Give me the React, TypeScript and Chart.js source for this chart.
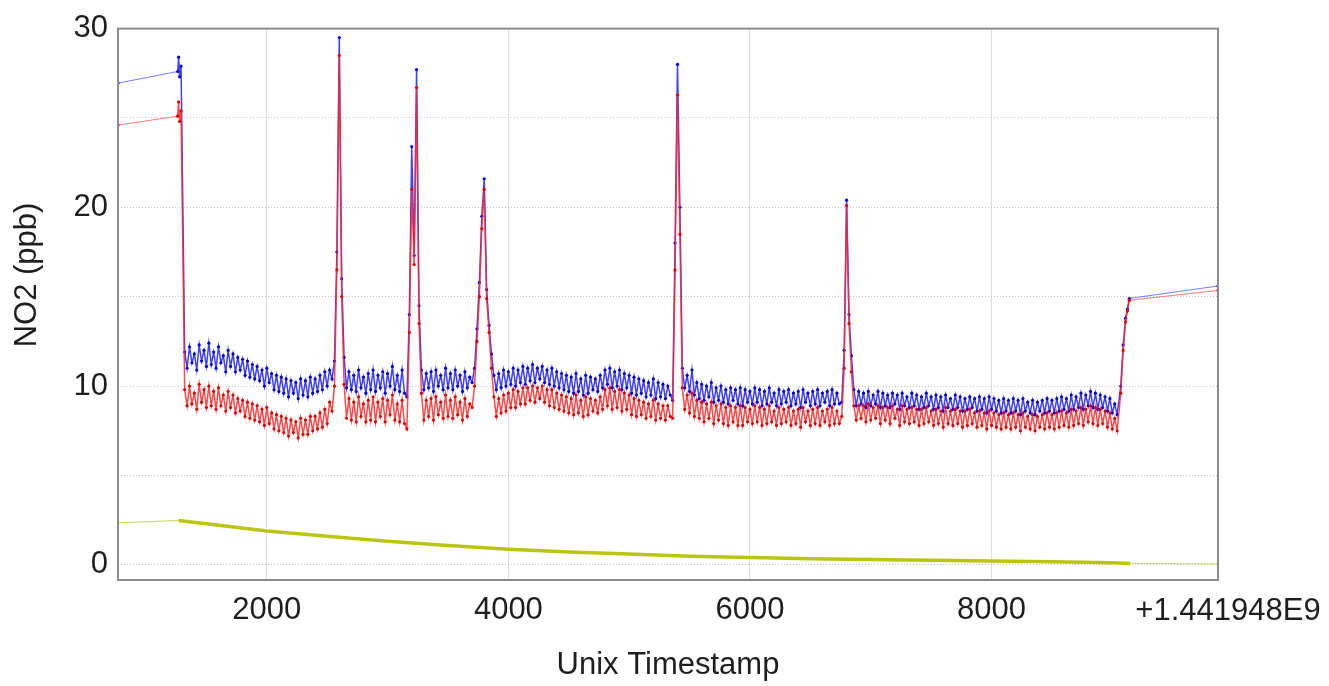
import { useEffect, useRef } from "react";
import { Chart, registerables } from "chart.js";
Chart.register(...registerables);

// Axis ranges and ticks
const X_MIN = 768;
const X_MAX = 9875;
const X_TICKS = [2000, 4000, 6000, 8000];
const X_OFFSET_LABEL = "+1.441948E9";
const X_TITLE = "Unix Timestamp";
const Y_MIN = -0.85;
const Y_MAX = 30;
const Y_GRID = [0, 5, 10, 15, 20, 25, 30];
const Y_LABELS = [0, 10, 20, 30];
const Y_TITLE = "NO2 (ppb)";

// Regular sampled section (timestamp offsets, one sample every 20 s)
const NOISE_START = 1320;
const NOISE_STEP = 20;

// Blue series
const BLUE_HEAD_T = [768, 1262, 1270, 1278, 1290];
const BLUE_HEAD = [26.95, 27.6, 28.4, 27.3, 27.9];
const BLUE_NOISE = [
  11.9, 11.0, 12.2, 11.3, 11.8, 10.9, 12.3, 11.4, 12.0, 11.1,
  12.4, 11.2, 11.9, 11.0, 12.2, 11.3, 11.7, 10.8, 12.0, 11.1,
  11.8, 10.8, 11.6, 10.9, 11.5, 10.6, 11.4, 10.5, 11.2, 10.4,
  11.1, 10.3, 10.9, 10.0, 11.0, 10.2, 10.7, 9.8, 10.6, 9.7,
  10.5, 9.6, 10.4, 9.4, 10.3, 9.6, 10.2, 9.3, 10.4, 9.5,
  10.3, 9.4, 10.5, 9.6, 10.4, 9.7, 10.6, 9.8, 10.8, 10.0,
  10.9, 10.4, 11.4, 17.5, 29.5, 16.0, 11.6, 9.9, 10.8, 9.8,
  10.6, 9.7, 10.9, 9.9, 10.5, 9.6, 10.7, 9.8, 10.9, 9.7,
  10.6, 9.9, 10.8, 9.6, 10.7, 10.0, 11.1, 9.8, 10.6, 9.7,
  10.9, 9.6, 9.4, 14.0, 23.4, 17.3, 27.7, 14.5, 10.9, 9.8,
  10.7, 9.9, 10.8, 9.7, 10.9, 10.0, 10.6, 9.8, 11.0, 9.9,
  10.7, 9.8, 10.9, 10.0, 10.6, 9.7, 10.8, 9.9, 10.5, 10.2,
  11.0, 13.2, 15.8, 19.5, 21.6, 15.4, 13.4, 11.8, 10.6, 9.8,
  10.7, 9.9, 10.9, 10.0, 10.8, 10.1, 11.0, 10.0, 10.9, 10.2,
  11.1, 10.1, 11.0, 10.3, 11.2, 10.2, 11.0, 10.4, 11.1, 10.2,
  10.9, 10.1, 11.0, 10.0, 10.8, 9.9, 10.7, 9.8, 10.6, 9.7,
  10.5, 9.6, 10.7, 9.7, 10.4, 9.5, 10.6, 9.6, 10.5, 9.8,
  10.4, 9.7, 10.6, 9.9, 10.9, 10.1, 11.0, 9.9, 10.8, 10.0,
  10.9, 9.8, 10.7, 9.9, 10.6, 9.6, 10.5, 9.5, 10.4, 9.6,
  10.3, 9.4, 10.2, 9.5, 10.4, 9.3, 10.2, 9.4, 10.1, 9.3,
  10.0, 9.5, 9.2, 18.0, 28.0, 20.0, 11.0, 9.9, 10.6, 9.7,
  10.9, 9.5, 10.2, 9.3, 10.1, 9.2, 10.0, 9.4, 10.2, 9.1,
  9.9, 9.2, 10.0, 9.1, 9.8, 9.0, 9.9, 9.2, 9.8, 9.0,
  9.9, 8.9, 9.8, 9.1, 9.7, 9.0, 9.9, 9.1, 9.8, 8.9,
  9.7, 9.0, 9.9, 9.1, 9.6, 8.9, 9.8, 9.0, 9.7, 9.1,
  9.8, 8.9, 9.6, 9.0, 9.7, 8.8, 9.8, 9.1, 9.6, 8.9,
  9.7, 9.0, 9.8, 8.9, 9.6, 9.1, 9.7, 8.9, 9.8, 9.0,
  9.6, 9.0, 9.1, 12.0, 20.4, 14.0, 11.7, 9.8, 8.9, 9.7,
  9.0, 9.6, 8.8, 9.7, 8.9, 9.5, 9.0, 9.7, 8.8, 9.6,
  8.9, 9.5, 8.8, 9.6, 9.0, 9.5, 8.7, 9.6, 8.9, 9.4,
  8.8, 9.6, 8.9, 9.5, 8.7, 9.4, 8.8, 9.6, 8.9, 9.4,
  8.7, 9.5, 8.8, 9.4, 8.6, 9.5, 8.8, 9.3, 8.7, 9.5,
  8.8, 9.4, 8.6, 9.3, 8.7, 9.4, 8.8, 9.3, 8.6, 9.4,
  8.7, 9.3, 8.5, 9.4, 8.7, 9.3, 8.6, 9.2, 8.5, 9.3,
  8.6, 9.2, 8.5, 9.3, 8.6, 9.2, 8.4, 9.3, 8.6, 9.1,
  8.5, 9.2, 8.4, 9.1, 8.6, 9.2, 8.5, 9.3, 8.6, 9.2,
  8.5, 9.3, 8.6, 9.4, 8.7, 9.3, 8.6, 9.5, 8.7, 9.4,
  8.8, 9.6, 8.7, 9.5, 8.9, 9.7, 8.8, 9.6, 8.7, 9.5,
  8.8, 9.4, 8.6, 9.3, 8.5, 9.0, 8.4,
];
const BLUE_TAIL_T = [9070, 9090, 9110, 9125, 9140, 9875];
const BLUE_TAIL = [10.0, 12.3, 13.8, 14.3, 14.9, 15.6];

// Red series
const RED_HEAD_T = [768, 1262, 1270, 1278, 1290];
const RED_HEAD = [24.6, 25.1, 25.9, 24.8, 25.4];
const RED_NOISE = [
  9.8, 8.9, 10.0, 9.0, 9.6, 8.7, 10.1, 9.1, 9.8, 8.8,
  10.0, 8.9, 9.7, 8.7, 9.9, 8.9, 9.5, 8.6, 9.7, 8.8,
  9.5, 8.5, 9.3, 8.6, 9.2, 8.3, 9.1, 8.2, 9.0, 8.1,
  8.9, 8.0, 8.7, 7.8, 8.8, 7.9, 8.5, 7.6, 8.4, 7.5,
  8.3, 7.4, 8.2, 7.2, 8.1, 7.4, 8.0, 7.1, 8.2, 7.3,
  8.1, 7.3, 8.3, 7.5, 8.3, 7.6, 8.5, 7.7, 8.7, 7.9,
  9.1, 8.6, 10.0, 16.5, 28.5, 15.0, 10.1, 8.2, 9.3, 8.1,
  9.1, 8.0, 9.4, 8.3, 9.0, 8.0, 9.2, 8.1, 9.4, 8.0,
  9.1, 8.3, 9.3, 8.0, 9.2, 8.4, 9.5, 8.1, 9.0, 8.0,
  9.2, 7.9, 7.6, 13.0, 21.0, 16.8, 26.7, 13.5, 9.6, 8.1,
  9.2, 8.3, 9.3, 8.1, 9.4, 8.4, 9.1, 8.2, 9.5, 8.3,
  9.2, 8.2, 9.4, 8.4, 9.1, 8.1, 9.3, 8.3, 9.0, 8.8,
  10.0, 12.5, 15.0, 18.8, 21.0, 14.9, 13.0, 11.0, 9.4, 8.3,
  9.3, 8.5, 9.5, 8.6, 9.6, 8.8, 9.8, 8.8, 9.7, 9.0,
  9.9, 9.0, 9.9, 9.2, 10.0, 9.1, 9.9, 9.3, 10.0, 9.1,
  9.8, 8.9, 9.8, 8.8, 9.6, 8.7, 9.5, 8.6, 9.4, 8.5,
  9.3, 8.4, 9.5, 8.5, 9.2, 8.3, 9.4, 8.4, 9.3, 8.6,
  9.2, 8.5, 9.4, 8.7, 9.8, 8.9, 9.9, 8.7, 9.7, 8.8,
  9.8, 8.6, 9.6, 8.7, 9.5, 8.4, 9.3, 8.3, 9.2, 8.4,
  9.1, 8.2, 9.0, 8.3, 9.2, 8.1, 9.0, 8.2, 8.9, 8.1,
  8.9, 8.3, 8.2, 16.5, 26.3, 18.5, 9.9, 8.7, 9.5, 8.5,
  9.6, 8.3, 9.2, 8.2, 9.1, 8.0, 9.0, 8.2, 9.1, 7.9,
  8.9, 8.1, 9.0, 7.9, 8.8, 7.8, 8.9, 8.0, 8.8, 7.8,
  8.9, 7.8, 8.8, 8.0, 8.7, 7.9, 8.9, 8.0, 8.8, 7.8,
  8.7, 7.9, 8.9, 8.0, 8.6, 7.8, 8.8, 7.9, 8.7, 8.0,
  8.8, 7.8, 8.6, 7.9, 8.7, 7.7, 8.8, 8.0, 8.6, 7.8,
  8.7, 7.9, 8.8, 7.8, 8.6, 8.0, 8.7, 7.8, 8.8, 7.9,
  8.6, 7.9, 8.3, 11.0, 20.1, 13.5, 10.8, 8.9, 8.1, 8.9,
  8.2, 8.9, 8.0, 9.0, 8.1, 8.8, 8.2, 8.9, 7.9, 8.8,
  8.1, 8.8, 7.9, 8.9, 8.2, 8.7, 7.8, 8.9, 8.0, 8.7,
  7.9, 8.8, 8.0, 8.7, 7.8, 8.7, 7.9, 8.8, 8.0, 8.6,
  7.8, 8.7, 7.9, 8.6, 7.7, 8.8, 7.9, 8.6, 7.8, 8.7,
  7.9, 8.6, 7.7, 8.6, 7.8, 8.7, 7.9, 8.5, 7.7, 8.6,
  7.8, 8.5, 7.6, 8.6, 7.8, 8.5, 7.7, 8.4, 7.6, 8.5,
  7.7, 8.4, 7.6, 8.5, 7.7, 8.4, 7.5, 8.5, 7.7, 8.3,
  7.6, 8.4, 7.5, 8.3, 7.7, 8.4, 7.6, 8.5, 7.7, 8.4,
  7.6, 8.5, 7.7, 8.6, 7.8, 8.5, 7.7, 8.7, 7.8, 8.6,
  7.9, 8.8, 7.8, 8.7, 8.0, 8.9, 7.9, 8.8, 7.8, 8.7,
  7.9, 8.6, 7.7, 8.5, 7.6, 8.2, 7.5,
];
const RED_TAIL_T = [9070, 9090, 9110, 9125, 9140, 9875];
const RED_TAIL = [9.6, 12.0, 13.6, 14.2, 14.8, 15.35];

// Yellow series
const YELLOW_T = [768, 1270, 1500, 2000, 2500, 3000, 3500, 4000, 4500, 5000, 5500, 6000, 6500, 7000, 7500, 8000, 8500, 9000, 9150, 9875];
const YELLOW = [2.35, 2.48, 2.3, 1.89, 1.6, 1.32, 1.08, 0.87, 0.72, 0.6, 0.48, 0.41, 0.34, 0.29, 0.25, 0.22, 0.17, 0.11, 0.08, 0.05];

const FONT_FAMILY = "'Liberation Sans', Arial, Helvetica, sans-serif";
const TEXT_COLOR = "#1e1e1e";

function pairs(ts: number[], vs: number[]) {
  return ts.map((t, i) => ({ x: t, y: vs[i] }));
}

function buildSeries(headT: number[], head: number[], noise: number[], tailT: number[], tail: number[]) {
  return [
    ...pairs(headT, head),
    ...noise.map((v, i) => ({ x: NOISE_START + i * NOISE_STEP, y: v })),
    ...pairs(tailT, tail),
  ];
}

export default function App() {
  const ref = useRef<HTMLCanvasElement>(null);

  useEffect(() => {
    document.body.style.margin = "0";
    const canvas = ref.current;
    if (!canvas) return;

    const bluePts = buildSeries(BLUE_HEAD_T, BLUE_HEAD, BLUE_NOISE, BLUE_TAIL_T, BLUE_TAIL);
    const redPts = buildSeries(RED_HEAD_T, RED_HEAD, RED_NOISE, RED_TAIL_T, RED_TAIL);
    const yellowPts = pairs(YELLOW_T, YELLOW);

    const font = { family: FONT_FAMILY, size: 31 };

    const framePlugin = {
      id: "framePlugin",
      afterDraw(chart: any) {
        const { ctx, chartArea } = chart;
        ctx.save();
        ctx.strokeStyle = "#8c8c8c";
        ctx.lineWidth = 2;
        ctx.strokeRect(chartArea.left, chartArea.top, chartArea.right - chartArea.left, chartArea.bottom - chartArea.top);
        ctx.fillStyle = TEXT_COLOR;
        ctx.font = `31px ${FONT_FAMILY}`;
        ctx.textAlign = "center";
        ctx.textBaseline = "middle";
        ctx.fillText(X_OFFSET_LABEL, 1228, 611);
        ctx.translate(27, 275);
        ctx.rotate(-Math.PI / 2);
        ctx.fillText(Y_TITLE, 0, 0);
        ctx.restore();
      },
    };

    const thinYellow = (ctx: any) => ctx.p0.parsed.x < 1270 || ctx.p1.parsed.x > 9150;
    const thinGap = (ctx: any) => ctx.p1.parsed.x - ctx.p0.parsed.x > 200;

    const chart = new Chart(canvas, {
      type: "line",
      data: {
        datasets: [
          {
            label: "red",
            data: redPts,
            borderColor: "rgba(255,40,40,0.85)",
            borderWidth: 1.5,
            pointRadius: 1.6,
            pointBackgroundColor: "#e00000",
            pointBorderWidth: 0,
            tension: 0,
            order: 1,
            segment: {
              borderWidth: (ctx: any) => (thinGap(ctx) ? 1 : 1.5),
              borderColor: (ctx: any) => (thinGap(ctx) ? "rgba(255,90,90,0.8)" : "rgba(255,40,40,0.85)"),
            },
          },
          {
            label: "blue",
            data: bluePts,
            borderColor: "rgba(30,30,255,0.85)",
            borderWidth: 1.5,
            pointRadius: 1.6,
            pointBackgroundColor: "#0000e0",
            pointBorderWidth: 0,
            tension: 0,
            order: 2,
            segment: {
              borderWidth: (ctx: any) => (thinGap(ctx) ? 1 : 1.5),
              borderColor: (ctx: any) => (thinGap(ctx) ? "rgba(90,90,255,0.8)" : "rgba(30,30,255,0.85)"),
            },
          },
          {
            label: "yellow",
            data: yellowPts,
            borderColor: "#bac512",
            borderWidth: 3.5,
            pointRadius: 0,
            tension: 0,
            order: 3,
            segment: {
              borderWidth: (ctx: any) => (thinYellow(ctx) ? 1 : 3.5),
              borderColor: (ctx: any) => (thinYellow(ctx) ? "#cdd45a" : "#bac512"),
            },
          },
        ],
      } as any,
      options: {
        animation: false,
        responsive: false,
        devicePixelRatio: 1,
        layout: { padding: { top: 25, right: 111, bottom: 0, left: 0 } },
        plugins: { legend: { display: false }, tooltip: { enabled: false } },
        scales: {
          x: {
            type: "linear",
            min: X_MIN,
            max: X_MAX,
            afterBuildTicks: (s: any) => {
              s.ticks = X_TICKS.map((v) => ({ value: v }));
            },
            afterFit: (s: any) => {
              s.height = 106;
            },
            grid: { color: "#dedede", lineWidth: 1, drawTicks: false },
            border: { display: false },
            ticks: {
              font,
              color: TEXT_COLOR,
              padding: 12,
              maxRotation: 0,
              autoSkip: false,
              callback: (v: any) => String(v),
            },
            title: {
              display: true,
              text: X_TITLE,
              font,
              color: TEXT_COLOR,
              padding: { top: 0, bottom: 2 },
            },
          },
          y: {
            type: "linear",
            min: Y_MIN,
            max: Y_MAX,
            afterBuildTicks: (s: any) => {
              s.ticks = Y_GRID.map((v) => ({ value: v }));
            },
            afterFit: (s: any) => {
              s.width = 118;
            },
            grid: { color: "rgba(150,150,150,0.6)", lineWidth: 1, drawTicks: false },
            border: { display: false, dash: [1, 2] },
            ticks: {
              font,
              color: TEXT_COLOR,
              padding: 10,
              autoSkip: false,
              callback: (v: any) => (Y_LABELS.includes(Number(v)) ? String(v) : ""),
            },
          },
        },
      } as any,
      plugins: [framePlugin],
    });

    return () => chart.destroy();
  }, []);

  return <canvas ref={ref} width={1329} height={686} style={{ display: "block", width: 1329, height: 686 }} />;
}
